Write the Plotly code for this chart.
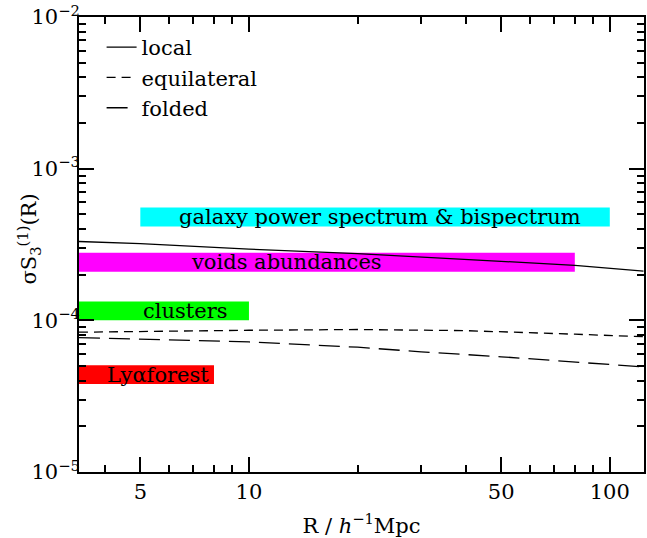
import math
import plotly.graph_objects as go

# ---- data ----
R_local = [3.38, 5, 10, 20, 50, 80, 124]
S_local = [3.31e-4, 3.20e-4, 2.95e-4, 2.75e-4, 2.45e-4, 2.30e-4, 2.11e-4]

R_equil = [3.38, 5, 10, 20, 40, 80, 124]
S_equil = [8.35e-5, 8.45e-5, 8.6e-5, 8.7e-5, 8.55e-5, 8.1e-5, 7.8e-5]

R_fold = [3.38, 5, 10, 20, 30, 50, 80, 124]
S_fold = [7.7e-5, 7.5e-5, 7.2e-5, 6.65e-5, 6.2e-5, 5.75e-5, 5.3e-5, 4.93e-5]

band_names = ["galaxy power spectrum & bispectrum", "voids abundances", "clusters", "Ly\u03b1forest"]
band_xmin = [5, 3.38, 3.38, 3.38]
band_xmax = [100, 80, 10, 8]
band_ymin = [4.15e-4, 2.09e-4, 1.0e-4, 3.8e-5]
band_ymax = [5.55e-4, 2.79e-4, 1.33e-4, 5.05e-5]
band_label_x = [6.33, 6.8, 5.03, 4.0]
band_colors = ["#00ffff", "#ff00ff", "#00ff00", "#ff0000"]

x_major = [5, 10, 50, 100]
x_minor = [4, 6, 7, 8, 9, 20, 30, 40, 60, 70, 80, 90]
y_major = [1e-5, 1e-4, 1e-3, 1e-2]
y_major_text = ["10<sup>\u22125</sup>", "10<sup>\u22124</sup>", "10<sup>\u22123</sup>", "10<sup>\u22122</sup>"]
y_minor = [m * 10.0 ** e for e in (-5, -4, -3) for m in range(2, 10)]

FONT = "DejaVu Serif"
FS = 21

fig = go.Figure()

for nm, x0, x1, y0, y1, c, lx in zip(band_names, band_xmin, band_xmax, band_ymin, band_ymax,
                                    band_colors, band_label_x):
    fig.add_shape(type="rect", xref="x", yref="y", x0=x0, x1=x1, y0=y0, y1=y1,
                  fillcolor=c, line_width=0, layer="below")
    # annotations on log axes take log10 coordinates
    fig.add_annotation(x=math.log10(lx), y=0.5 * (math.log10(y0) + math.log10(y1)),
                       xref="x", yref="y", text=nm,
                       showarrow=False, xanchor="left", yanchor="middle",
                       font=dict(family=FONT, size=FS, color="black"))

fig.add_trace(go.Scatter(x=R_local, y=S_local, mode="lines", name="local",
                         legendgroup="a", line=dict(color="black", width=1.3)))
fig.add_trace(go.Scatter(x=R_equil, y=S_equil, mode="lines", name="equilateral",
                         legendgroup="b", line=dict(color="black", width=1.3, dash="9px,6px")))
fig.add_trace(go.Scatter(x=R_fold, y=S_fold, mode="lines", name="folded",
                         legendgroup="c", line=dict(color="black", width=1.3, dash="21px,9px")))

fig.add_annotation(xref="paper", yref="paper", x=0, y=0.5, xshift=-51, yshift=5,
                   text="\u03c3S<sub>3</sub><sup>(1)</sup>(R)", textangle=-90,
                   showarrow=False, xanchor="center", yanchor="middle",
                   font=dict(family=FONT, size=FS, color="black"))

fig.update_layout(
    width=647, height=538,
    margin=dict(l=79, r=1, t=17, b=66),
    plot_bgcolor="white", paper_bgcolor="white",
    font=dict(family=FONT, size=FS, color="black"),
    showlegend=True,
    legend=dict(x=0.04, y=0.978, xanchor="left", yanchor="top", bgcolor="rgba(0,0,0,0)",
                font=dict(family=FONT, size=FS), tracegroupgap=0, itemwidth=30),
    xaxis=dict(type="log", range=[0.529, 2.0948], showgrid=False, zeroline=False,
               showline=True, linecolor="black", linewidth=2, mirror="ticks",
               ticks="inside", ticklen=15, tickwidth=1.5, tickcolor="black",
               tickvals=x_major, ticktext=[str(v) for v in x_major],
               tickfont=dict(family=FONT, size=FS),
               minor=dict(ticks="inside", ticklen=7, tickwidth=1.5, tickcolor="black",
                          tickvals=x_minor, showgrid=False),
               title=dict(text="R / <i>h</i><sup>\u22121</sup>Mpc", standoff=16,
                          font=dict(family=FONT, size=FS))),
    yaxis=dict(type="log", range=[-5, -2], showgrid=False, zeroline=False,
               showline=True, linecolor="black", linewidth=2, mirror="ticks",
               ticks="inside", ticklen=15, tickwidth=1.5, tickcolor="black",
               tickvals=y_major, ticktext=y_major_text, ticklabelstandoff=-7,
               tickfont=dict(family=FONT, size=FS),
               minor=dict(ticks="inside", ticklen=7, tickwidth=1.5, tickcolor="black",
                          tickvals=y_minor, showgrid=False)),
)

fig.write_html("out.html")
